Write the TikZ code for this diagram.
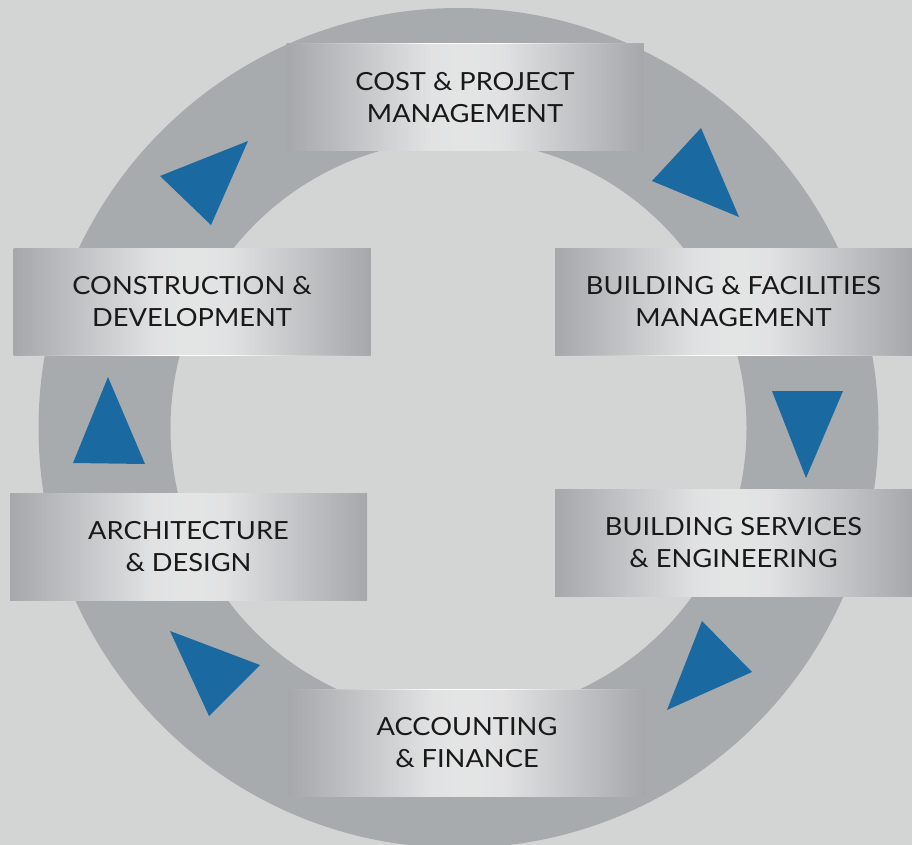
\documentclass[tikz,border=0pt]{standalone}
\usepackage{fontspec}
\setmainfont{Lato}[FakeStretch=1.09]
\usetikzlibrary{positioning, fadings}
\definecolor{bggray}{HTML}{D3D5D5}
\definecolor{ringgray}{HTML}{A8ABAE}
\definecolor{boxgray}{HTML}{A6A8AB}
\definecolor{arrowblue}{HTML}{1B69A1}
\pgfdeclarehorizontalshading{boxshade}{100bp}{color(0bp)=(boxgray); color(25bp)=(boxgray); color(45bp)=(white!96!boxgray); color(50bp)=(white); color(55bp)=(white!96!boxgray); color(75bp)=(boxgray); color(100bp)=(boxgray)}
\tikzfading[name=edgefade, top color=transparent!0, middle color=transparent!100, bottom color=transparent!0]
\begin{document}
\begin{tikzpicture}[x=1pt,y=-1pt]
\tikzstyle{stage}=[shading=boxshade, minimum width=357pt, minimum height=107pt, inner sep=0pt, align=center, text=black!90, font=\fontsize{25}{32}\selectfont,
  path picture={\fill [boxgray, opacity=0.3, path fading=edgefade] (path picture bounding box.south west) rectangle (path picture bounding box.north east);}];
\fill [bggray] (0,0) rectangle (912,845);
\useasboundingbox (0,0) rectangle (912,845);
\fill [ringgray, even odd rule] (458.5,428) circle (420pt) (458.5,428) circle (288pt);
\fill [arrowblue] (701,128) -- (652,181) -- (739,217) -- cycle;
\fill [arrowblue] (772,391) -- (843,391) -- (806,478) -- cycle;
\fill [arrowblue] (702,621) -- (752,672) -- (667,710) -- cycle;
\fill [arrowblue] (170,631) -- (260,665) -- (209,716) -- cycle;
\fill [arrowblue] (108,377) -- (73,463) -- (145,464) -- cycle;
\fill [arrowblue] (248,141) -- (160,176) -- (211,225) -- cycle;
\path (465,97.5) node[stage] (cost) {COST \& PROJECT\\MANAGEMENT};
\path (733.5,301.5) node[stage] (facil) {BUILDING \& FACILITIES\\MANAGEMENT};
\path (733.5,543) node[stage] (serv) {BUILDING SERVICES\\\& ENGINEERING};
\path (467,743) node[stage] (acct) {ACCOUNTING\\\& FINANCE};
\path (188.5,547) node[stage] (arch) {ARCHITECTURE\\\& DESIGN};
\path (192,301.5) node[stage] (constr) {CONSTRUCTION \&\\DEVELOPMENT};
\end{tikzpicture}
\end{document}
